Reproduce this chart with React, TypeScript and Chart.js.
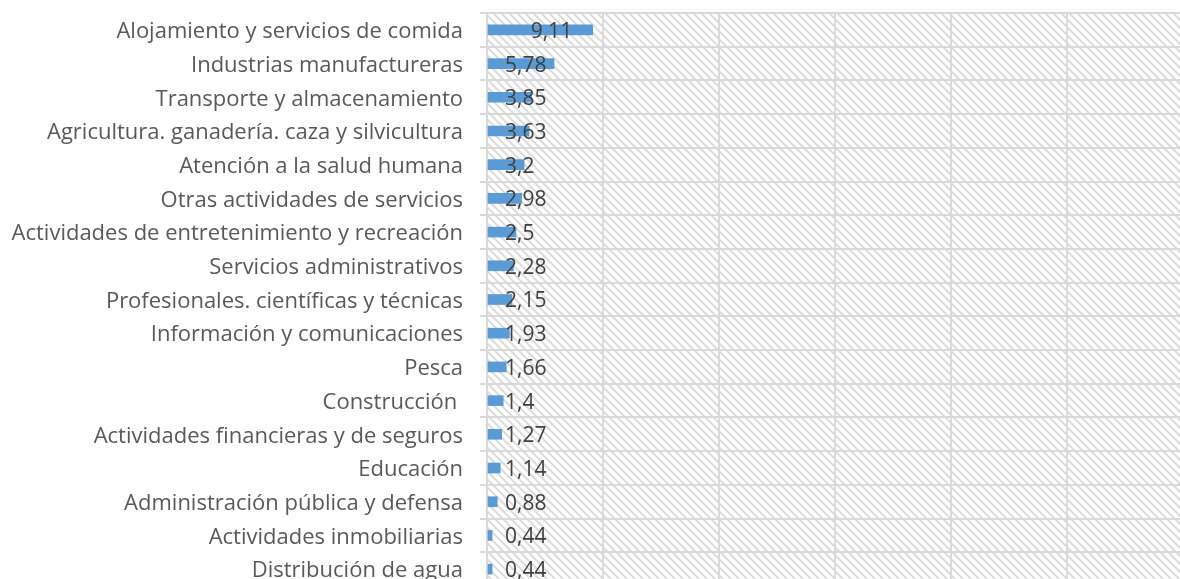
import React, { useEffect, useRef } from "react";
import { Chart, registerables } from "chart.js";

Chart.register(...registerables);

const categories = [
  "Alojamiento y servicios de comida",
  "Industrias manufactureras",
  "Transporte y almacenamiento",
  "Agricultura. ganadería. caza y silvicultura",
  "Atención a la salud humana",
  "Otras actividades de servicios",
  "Actividades de entretenimiento y recreación",
  "Servicios administrativos",
  "Profesionales. científicas y técnicas",
  "Información y comunicaciones",
  "Pesca",
  "Construcción ",
  "Actividades financieras y de seguros",
  "Educación",
  "Administración pública y defensa",
  "Actividades inmobiliarias",
  "Distribución de agua",
];

const values = [9.11, 5.78, 3.85, 3.63, 3.2, 2.98, 2.5, 2.28, 2.15, 1.93, 1.66, 1.4, 1.27, 1.14, 0.88, 0.44, 0.44];

const valueLabels = ["9,11", "5,78", "3,85", "3,63", "3,2", "2,98", "2,5", "2,28", "2,15", "1,93", "1,66", "1,4", "1,27", "1,14", "0,88", "0,44", "0,44"];

const xMin = 0;
const xMax = 60;
const xStep = 10;

const CANVAS_W = 1190;
const CANVAS_H = 600;

function makeHatch(): CanvasPattern | string {
  const p = 8;
  const c = document.createElement("canvas");
  c.width = p;
  c.height = p;
  const g = c.getContext("2d");
  if (!g) return "#f4f4f4";
  g.fillStyle = "#ffffff";
  g.fillRect(0, 0, p, p);
  g.strokeStyle = "#dcdcdc";
  g.lineWidth = 2;
  g.beginPath();
  g.moveTo(-1, -1);
  g.lineTo(p + 1, p + 1);
  g.moveTo(-1, p - 1);
  g.lineTo(1, p + 1);
  g.moveTo(p - 1, -1);
  g.lineTo(p + 1, 1);
  g.stroke();
  const pat = g.createPattern(c, "repeat");
  return pat || "#f4f4f4";
}

const hatchPlugin = {
  id: "hatchBg",
  beforeDraw(chart: any) {
    const { ctx, chartArea } = chart;
    if (!chartArea) return;
    ctx.save();
    ctx.fillStyle = makeHatch();
    ctx.fillRect(chartArea.left, chartArea.top, chartArea.right - chartArea.left, chartArea.bottom - chartArea.top);
    ctx.restore();
  },
};

const valueLabelPlugin = {
  id: "valueLabels",
  afterDatasetsDraw(chart: any) {
    const { ctx } = chart;
    const meta = chart.getDatasetMeta(0);
    const zero = chart.scales.x.getPixelForValue(0);
    ctx.save();
    ctx.font = "21px 'Open Sans'";
    ctx.fillStyle = "#404040";
    ctx.textAlign = "left";
    ctx.textBaseline = "middle";
    meta.data.forEach((el: any, i: number) => {
      const lx = Math.max(zero + 18, el.x - 62);
      ctx.fillText(valueLabels[i], lx, el.y + 2);
    });
    ctx.restore();
  },
};

export default function App() {
  const ref = useRef<HTMLCanvasElement | null>(null);

  useEffect(() => {
    const canvas = ref.current;
    if (!canvas) return;
    const chart = new Chart(canvas, {
      type: "bar",
      data: {
        labels: categories,
        datasets: [
          {
            data: values,
            backgroundColor: "#5b9bd5",
            borderWidth: 0,
            barThickness: 10,
          },
        ],
      },
      options: {
        indexAxis: "y",
        responsive: false,
        animation: false,
        devicePixelRatio: 1,
        layout: { padding: { top: 13, right: 7, bottom: 14, left: 0 } },
        plugins: {
          legend: { display: false },
          tooltip: { enabled: false },
        },
        scales: {
          x: {
            min: xMin,
            max: xMax,
            ticks: { display: false, stepSize: xStep },
            grid: { color: "#d9d9d9", lineWidth: 2, drawTicks: false },
            border: { display: false },
            afterFit: (s: any) => {
              s.height = 0;
              s.paddingLeft = 0;
              s.paddingRight = 0;
            },
          },
          y: {
            ticks: {
              color: "#595959",
              font: { family: "'Open Sans'", size: 22 },
              padding: 17,
              labelOffset: 2,
              autoSkip: false,
            },
            grid: { color: "#d9d9d9", lineWidth: 2, offset: true, drawTicks: true, tickLength: 7 },
            border: { display: true, color: "#d9d9d9", width: 2 },
            afterFit: (s: any) => {
              s.width = 487;
              s.paddingTop = 0;
              s.paddingBottom = 0;
            },
          },
        },
      },
      plugins: [hatchPlugin, valueLabelPlugin],
    });
    return () => chart.destroy();
  }, []);

  return (
    <div style={{ position: "fixed", left: 0, top: 0, width: 1180, height: 579, overflow: "hidden", background: "#ffffff" }}>
      <canvas ref={ref} width={CANVAS_W} height={CANVAS_H} style={{ width: CANVAS_W, height: CANVAS_H, display: "block" }} />
    </div>
  );
}
